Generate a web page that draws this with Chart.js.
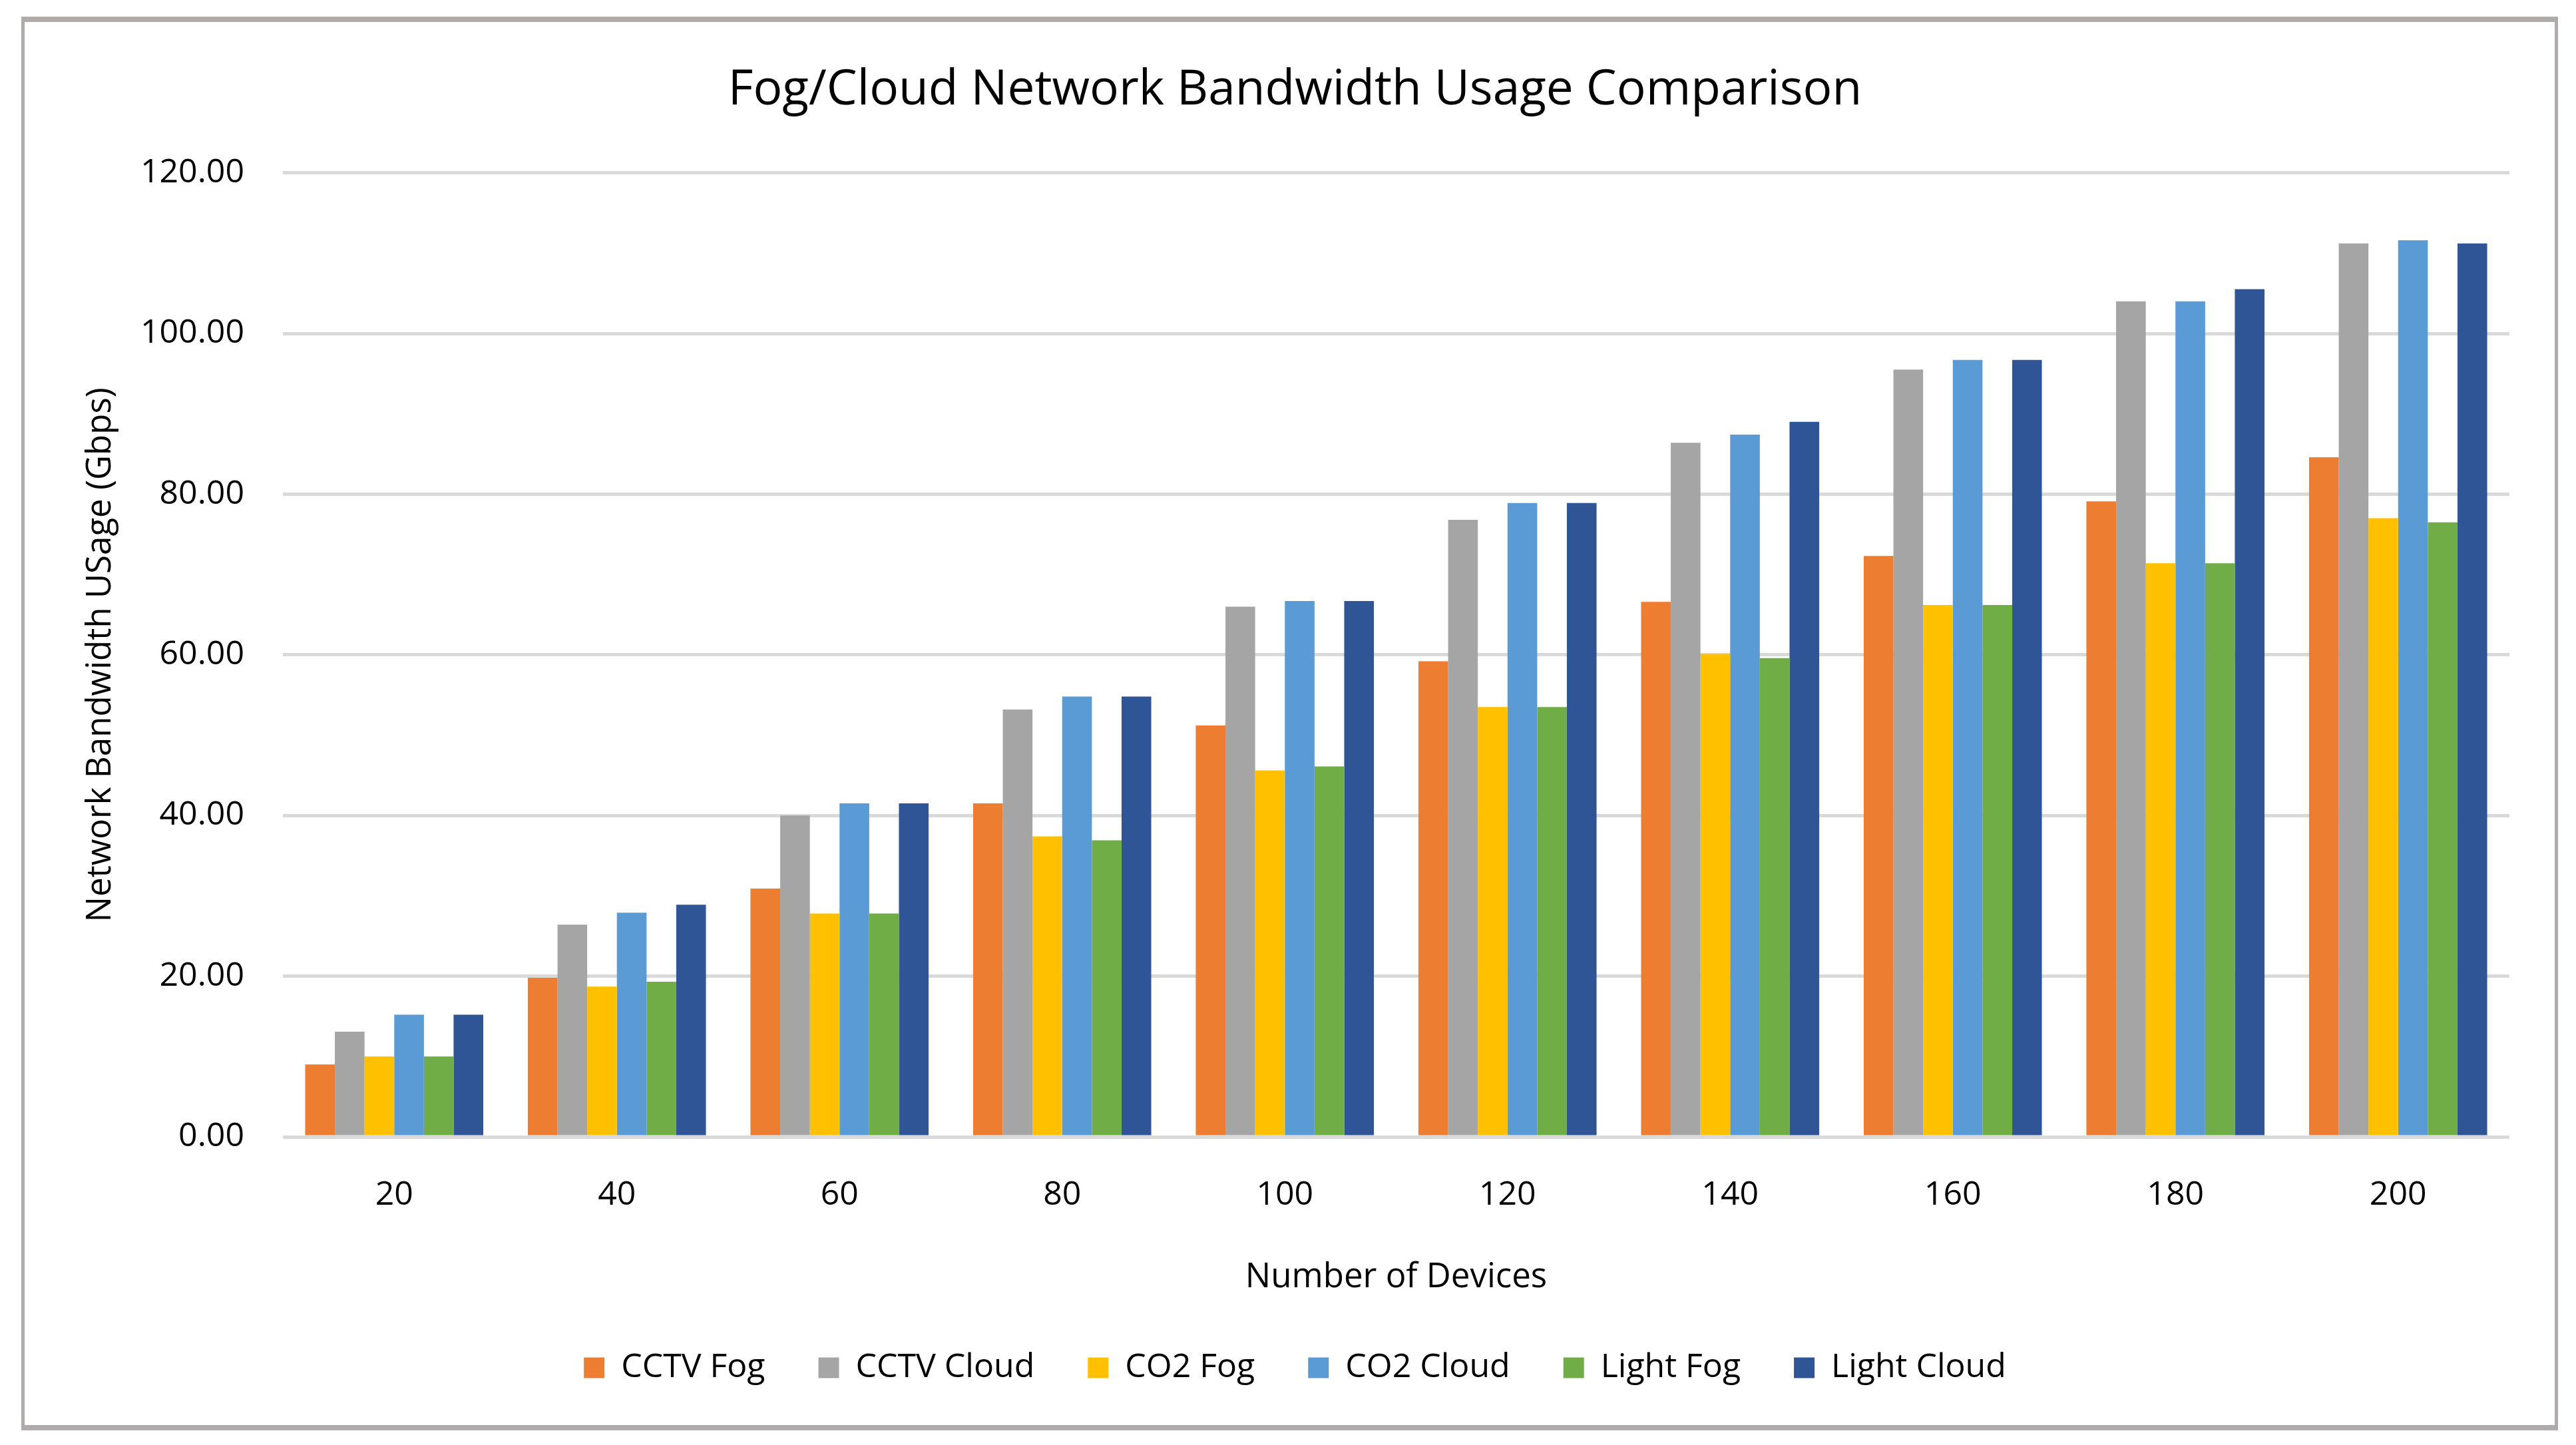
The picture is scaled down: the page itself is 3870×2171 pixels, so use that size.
<!DOCTYPE html>
<html>
<head>
<meta charset="utf-8">
<title>Fog/Cloud Network Bandwidth Usage Comparison</title>
<script src="https://cdn.jsdelivr.net/npm/chart.js@4.4.1/dist/chart.umd.min.js"></script>
<style>
    html, body { margin: 0; padding: 0; background: #ffffff; }
    canvas { display: block; }
</style>
</head>
<body>
<canvas id="bandwidthChart" width="3870" height="2171"></canvas>
<script>
// ##########################
// ## DATA ##
// ##########################

// Number of devices (x axis categories)
const deviceCounts = ['20', '40', '60', '80', '100', '120', '140', '160', '180', '200'];

// Bandwidth usage in Gbps
const cctvFog    = [9.0, 19.8, 30.9, 41.5, 51.2, 59.2, 66.6, 72.3, 79.1, 84.6];
const cctvCloud  = [13.1, 26.4, 40.0, 53.2, 66.0, 76.8, 86.4, 95.5, 104.0, 111.2];
const co2Fog     = [10.0, 18.7, 27.8, 37.4, 45.6, 53.5, 60.1, 66.2, 71.4, 77.0];
const co2Cloud   = [15.2, 27.9, 41.5, 54.8, 66.7, 78.9, 87.4, 96.7, 104.0, 111.6];
const lightFog   = [10.0, 19.3, 27.8, 36.9, 46.1, 53.5, 59.6, 66.2, 71.4, 76.5];
const lightCloud = [15.2, 28.9, 41.5, 54.8, 66.7, 78.9, 89.0, 96.7, 105.5, 111.2];

// y axis range
const yMin = 0;
const yMax = 120;
const yStep = 20;

// ##########################
// ## STYLE ##
// ##########################

const fontFamily = "'Open Sans', 'Noto Sans', sans-serif";

// Office default palette
const colors = {
    orange: '#ED7D31',
    gray: '#A5A5A5',
    yellow: '#FFC000',
    blue: '#5B9BD5',
    green: '#70AD47',
    darkBlue: '#2F5597'
};

// Draws white background and the grey frame around the whole chart
const framePlugin = {
    id: 'frame',
    beforeDraw(chart) {
        const c = chart.ctx;
        c.save();
        c.fillStyle = '#ffffff';
        c.fillRect(0, 0, chart.width, chart.height);
        c.fillStyle = '#AFABAB';
        c.fillRect(32, 25, 3811, 8);     // top
        c.fillRect(32, 2141, 3811, 8);   // bottom
        c.fillRect(32, 25, 5, 2124);     // left
        c.fillRect(3838, 25, 5, 2124);   // right
        c.restore();
    }
};

// ##########################
// ## CHART ##
// ##########################

const ctx = document.getElementById('bandwidthChart').getContext('2d');
const bandwidthChart = new Chart(ctx, {
    type: 'bar',
    data: {
        labels: deviceCounts,
        datasets: [
            { label: 'CCTV Fog', data: cctvFog, backgroundColor: colors.orange },
            { label: 'CCTV Cloud', data: cctvCloud, backgroundColor: colors.gray },
            { label: 'CO2 Fog', data: co2Fog, backgroundColor: colors.yellow },
            { label: 'CO2 Cloud', data: co2Cloud, backgroundColor: colors.blue },
            { label: 'Light Fog', data: lightFog, backgroundColor: colors.green },
            { label: 'Light Cloud', data: lightCloud, backgroundColor: colors.darkBlue }
        ]
    },
    options: {
        responsive: false,
        animation: false,
        devicePixelRatio: 1,
        categoryPercentage: 0.8,
        barPercentage: 1.0,
        layout: {
            padding: { top: 92, left: 121, right: 100, bottom: 81 }
        },
        plugins: {
            title: {
                display: true,
                text: 'Fog/Cloud Network Bandwidth Usage Comparison',
                color: '#000000',
                font: { family: fontFamily, size: 73, weight: 'normal' },
                padding: { top: 0, bottom: 80 }
            },
            legend: {
                position: 'bottom',
                labels: {
                    color: '#000000',
                    font: { family: fontFamily, size: 50 },
                    boxWidth: 31,
                    boxHeight: 31,
                    padding: 80
                }
            },
            tooltip: { enabled: false }
        },
        scales: {
            x: {
                grid: { display: false },
                border: { display: false },
                ticks: {
                    color: '#000000',
                    font: { family: fontFamily, size: 50 },
                    padding: 50
                },
                title: {
                    display: true,
                    text: 'Number of Devices',
                    color: '#000000',
                    font: { family: fontFamily, size: 51 },
                    padding: { top: 0, bottom: 0 }
                },
                afterFit(scale) { scale.height = 242; }
            },
            y: {
                min: yMin,
                max: yMax,
                grid: { color: '#D9D9D9', lineWidth: 5, drawTicks: false },
                border: { display: false },
                ticks: {
                    stepSize: yStep,
                    color: '#000000',
                    font: { family: fontFamily, size: 50 },
                    padding: 58,
                    callback: (value) => value.toFixed(2)
                },
                title: {
                    display: true,
                    text: 'Network Bandwidth USage (Gbps)',
                    color: '#000000',
                    font: { family: fontFamily, size: 51 },
                    padding: { top: 0, bottom: 0 }
                },
                afterFit(scale) { scale.width = 304; }
            }
        }
    },
    plugins: [framePlugin]
});
</script>
</body>
</html>
